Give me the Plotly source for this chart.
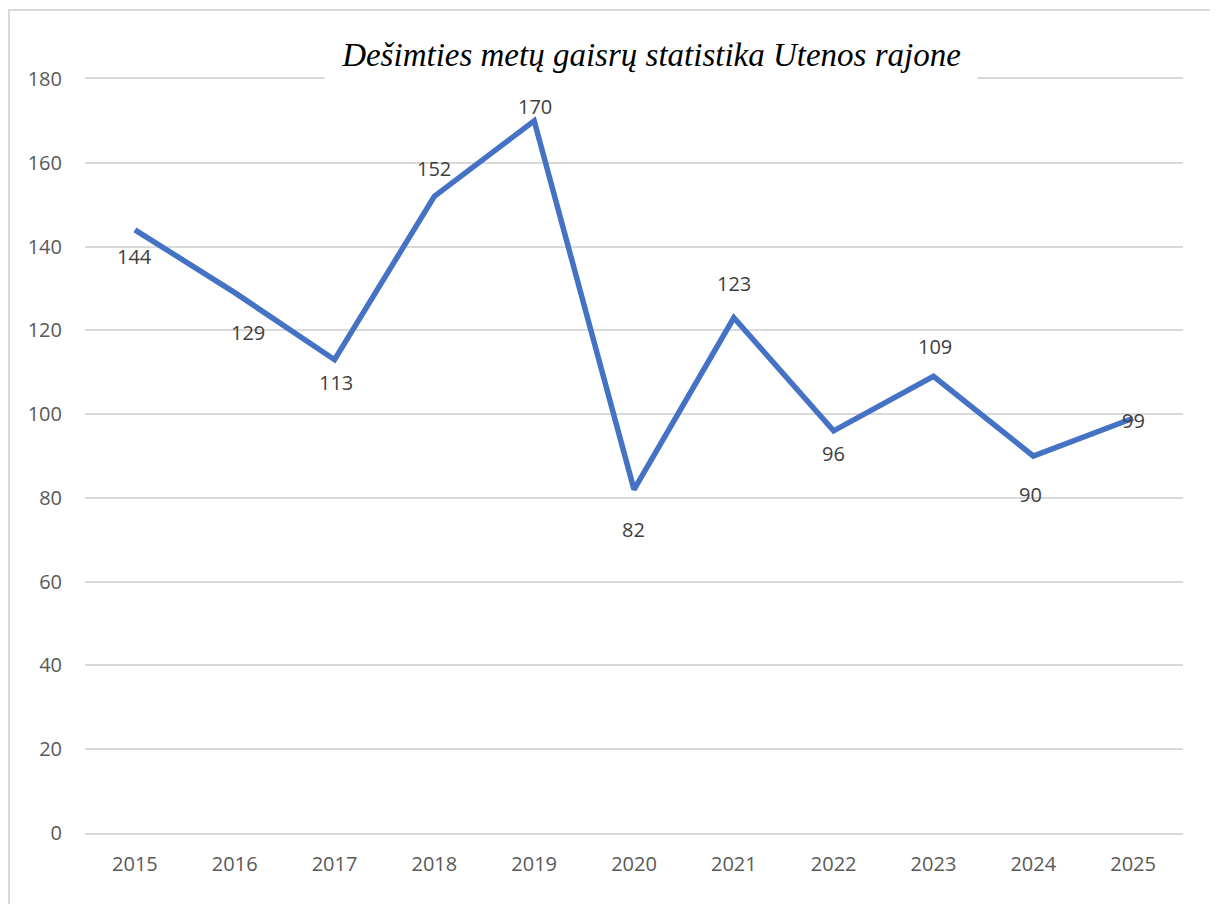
import plotly.graph_objects as go

years = ["2015", "2016", "2017", "2018", "2019", "2020", "2021", "2022", "2023", "2024", "2025"]
fires = [144, 129, 113, 152, 170, 82, 123, 96, 109, 90, 99]
y_ticks = [0, 20, 40, 60, 80, 100, 120, 140, 160, 180]
title_text = "Dešimties metų gaisrų statistika Utenos rajone"

# label pixel offsets (style only)
label_dx = [0, 13, 1, 0, 1, -1, 0, 0, 2, -3, 0]
label_dy = [-27, -40, -23, 28, 14, -40, 34, -23, 30, -38, -2]

FONT = "Open Sans"
L, T, PW, PH = 77, 71, 1098, 754

fig = go.Figure()
fig.add_trace(go.Scatter(
    x=list(range(len(years))), y=fires, mode="lines",
    line=dict(color="#4472C4", width=5.5), hoverinfo="skip", showlegend=False,
))

annotations = []
for i, (yr, v) in enumerate(zip(years, fires)):
    annotations.append(dict(
        x=i, y=v, xref="x", yref="y", text=str(v), showarrow=False,
        xshift=label_dx[i], yshift=label_dy[i],
        font=dict(family=FONT, size=20, color="#404040"),
    ))

annotations.append(dict(
    x=(643 - L) / PW, y=(T + PH - 47) / PH, xref="paper", yref="paper",
    text="<i>" + title_text + "</i>", showarrow=False,
    font=dict(family="Liberation Serif", size=33, color="#000000"),
    bgcolor="#FFFFFF", width=650, height=56,
    xanchor="center", yanchor="middle",
))

fig.add_shape(type="rect", xref="paper", yref="paper",
              x0=(1 - L) / PW, x1=1.2, y0=-0.3, y1=(T + PH - 2) / PH,
              line=dict(color="#D9D9D9", width=2), fillcolor="rgba(0,0,0,0)", layer="below")

fig.update_layout(
    width=1218, height=904,
    margin=dict(l=L, r=1218 - L - PW, t=T, b=904 - T - PH),
    paper_bgcolor="#FFFFFF", plot_bgcolor="#FFFFFF",
    annotations=annotations,
    xaxis=dict(
        range=[-0.5, len(years) - 0.5], tickmode="array",
        tickvals=list(range(len(years))), ticktext=years,
        showgrid=False, zeroline=False,
        showline=True, mirror=True, linecolor="#D9D9D9", linewidth=1.5,
        ticks="", ticklabelstandoff=12,
        tickfont=dict(family=FONT, size=20, color="#595959"),
    ),
    yaxis=dict(
        range=[0, 180], tickmode="array", tickvals=y_ticks,
        showgrid=True, gridcolor="#D9D9D9", gridwidth=1.5,
        zeroline=False, showline=False, ticks="", ticklabelstandoff=22,
        tickfont=dict(family=FONT, size=20, color="#595959"),
    ),
)

fig.write_html("out.html")
